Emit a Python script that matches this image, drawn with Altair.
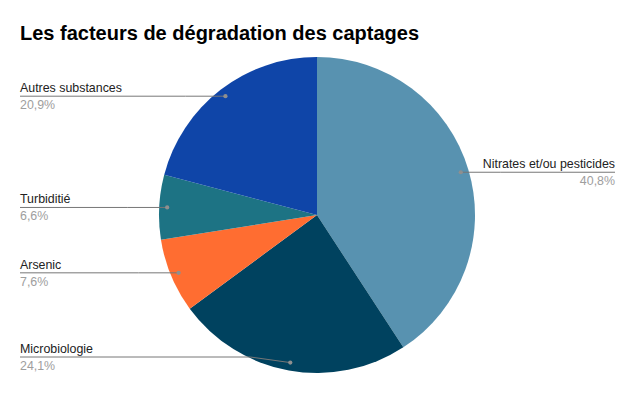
import altair as alt
import pandas as pd

categories = ["Nitrates et/ou pesticides", "Microbiologie", "Arsenic", "Turbiditié", "Autres substances"]
values = [40.8, 24.1, 7.6, 6.6, 20.9]
colors = ["#5892b0", "#00425f", "#ff6d31", "#1d7384", "#0f45a8"]
title_text = "Les facteurs de dégradation des captages"

df = pd.DataFrame({"cat": categories, "value": values, "order": list(range(len(categories)))})

W, H = 619, 377
CX, CY, R = 309, 207, 158
DOT_R = 150

xs = alt.Scale(domain=[0, W], nice=False, zero=False)
ys = alt.Scale(domain=[0, H], nice=False, zero=False, reverse=True)
FONT = "Liberation Sans"
FS = 12.4

pie = alt.Chart(df).mark_arc(radius=R).encode(
    theta=alt.Theta("value:Q", stack=True),
    color=alt.Color("cat:N", scale=alt.Scale(domain=categories, range=colors), legend=None),
    order=alt.Order("order:Q"),
    x=alt.value(CX),
    y=alt.value(CY),
)

base = alt.Chart(df).transform_window(
    cum="sum(value)", sort=[alt.SortField("order")], frame=[None, 0]
).transform_joinaggregate(total="sum(value)").transform_calculate(
    mid="(datum.cum - datum.value/2)/datum.total*2*PI",
).transform_calculate(
    dx=f"{CX} + {DOT_R}*sin(datum.mid)",
    dy=f"{CY} - {DOT_R}*cos(datum.mid)",
    right="sin(datum.mid) > 0",
).transform_calculate(
    ly="min(datum.dy, 349)",
    lx="datum.right ? 607 : 12",
    knee="datum.right ? datum.dx + 40 : datum.dx - 40",
    pct="replace(format(datum.value, '.1f'), '.', ',') + '%'",
).transform_calculate(
    ny="datum.ly - 4",
    py="datum.ly + 13",
)

hline = base.mark_rule(color="#777777", strokeWidth=1).encode(
    x=alt.X("lx:Q", scale=xs, axis=None),
    x2="knee:Q",
    y=alt.Y("ly:Q", scale=ys, axis=None),
)
sline = base.mark_rule(color="#777777", strokeWidth=1).encode(
    x=alt.X("knee:Q", scale=xs, axis=None),
    x2="dx:Q",
    y=alt.Y("ly:Q", scale=ys, axis=None),
    y2="dy:Q",
)
dots = base.mark_circle(color="#8f8f8f", opacity=1, size=18).encode(
    x=alt.X("dx:Q", scale=xs, axis=None),
    y=alt.Y("dy:Q", scale=ys, axis=None),
)
names_l = base.transform_filter("!datum.right").mark_text(
    align="left", baseline="alphabetic", font=FONT, fontSize=FS, color="#222222"
).encode(x=alt.X("lx:Q", scale=xs, axis=None), y=alt.Y("ny:Q", scale=ys, axis=None), text="cat:N")
pcts_l = base.transform_filter("!datum.right").mark_text(
    align="left", baseline="alphabetic", font=FONT, fontSize=FS, color="#9e9e9e"
).encode(x=alt.X("lx:Q", scale=xs, axis=None), y=alt.Y("py:Q", scale=ys, axis=None), text="pct:N")
names_r = base.transform_filter("datum.right").mark_text(
    align="right", baseline="alphabetic", font=FONT, fontSize=FS, color="#222222"
).encode(x=alt.X("lx:Q", scale=xs, axis=None), y=alt.Y("ny:Q", scale=ys, axis=None), text="cat:N")
pcts_r = base.transform_filter("datum.right").mark_text(
    align="right", baseline="alphabetic", font=FONT, fontSize=FS, color="#9e9e9e"
).encode(x=alt.X("lx:Q", scale=xs, axis=None), y=alt.Y("py:Q", scale=ys, axis=None), text="pct:N")

title = alt.Chart(pd.DataFrame({"t": [title_text]})).mark_text(
    align="left", baseline="alphabetic", font=FONT, fontSize=20, fontWeight="bold", color="#000000"
).encode(x=alt.value(12), y=alt.value(32), text="t:N")

chart = alt.layer(pie, hline, sline, dots, names_l, pcts_l, names_r, pcts_r, title).properties(
    width=W, height=H, autosize="none", padding=0
).configure_view(stroke=None)

chart.save("out.html", embed_options={"renderer": "svg", "actions": False})
